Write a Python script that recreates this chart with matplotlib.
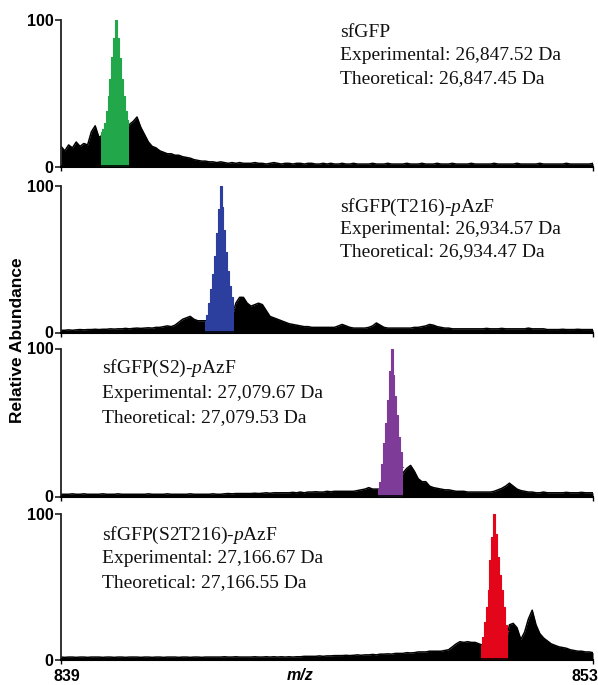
import matplotlib
matplotlib.use('Agg')
import matplotlib.pyplot as plt
import numpy as np

plt.rcParams['mathtext.fontset'] = 'custom'
plt.rcParams['mathtext.rm'] = 'Liberation Serif'
plt.rcParams['mathtext.it'] = 'Liberation Serif:italic'

# m/z axis of the deconvoluted traces, sampled every 0.1
mz = np.linspace(839, 853, 141)

# black traces (relative abundance)
trace_wt = [14, 11, 15, 13, 17, 14, 16, 15, 24, 28,
            20, 22, 22, 22, 22, 22, 22, 24, 29, 31,
            34, 27, 22, 17, 14, 13, 11, 10, 9, 9,
            8, 8, 7, 6.5, 6, 5, 4.5, 4, 4, 3.5,
            3.5, 3, 3.5, 3, 2.5, 3, 2.5, 3, 2.5, 2.5,
            2.5, 3, 2.5, 2.5, 2, 2.5, 3, 2.5, 2, 2.5,
            2.5, 2, 2.5, 2.5, 2, 2.5, 2.5, 2, 2, 2.5,
            2, 2.5, 2, 2, 2.5, 2, 2, 2.5, 2, 2,
            2, 2, 2.5, 2, 2, 2, 2.5, 2, 2, 2,
            2, 2.5, 2, 2, 2, 2.5, 2, 2, 2, 2.5,
            2, 2, 2, 2.5, 2, 2, 2, 2, 2.5, 2,
            2, 2, 2, 2, 2.5, 2, 2, 2, 2, 2,
            2.5, 2, 2, 2, 2, 2, 2.5, 2, 2, 2,
            2, 2, 2, 2.5, 2, 2, 2, 2, 2, 2,
            2.5]
trace_t216 = [1.5, 1.5, 1.8, 1.5, 1.8, 2, 1.8, 2, 2, 2.2,
              2, 2.2, 2.2, 2.5, 2.3, 2.5, 2.5, 2.8, 2.5, 2.8,
              3, 2.8, 3, 3.2, 3, 3.5, 3.5, 4, 4.5, 4,
              5, 7, 9, 10, 11, 9, 8, 8, 8, 8,
              8, 8, 8, 8, 8, 10, 20, 24, 24, 20,
              18, 19, 20, 19, 15, 11, 10, 9, 8, 7,
              6, 5.5, 5, 4.5, 4, 4, 3.5, 3.5, 3.5, 3.5,
              3.5, 3.5, 3.5, 4.5, 5.5, 4.5, 3.5, 3, 3, 3,
              3, 3.5, 4.5, 6.5, 5, 3.5, 3, 3, 3, 3,
              3, 3, 3, 3.5, 3.5, 4, 4.5, 5.5, 5, 4,
              3.5, 3, 3, 2.5, 2.5, 2.5, 2.5, 2.5, 2.5, 2.5,
              2.5, 2.5, 2.8, 2.5, 2.5, 2.5, 2.8, 2.5, 2.5, 2.5,
              2.5, 2.5, 2.5, 3, 2.5, 2.5, 2.5, 2.5, 2, 2,
              2, 2, 2.2, 2, 2, 2, 2.2, 2, 2, 2,
              2]
trace_s2 = [1.5, 1.5, 1.5, 1.8, 1.5, 1.5, 1.8, 1.5, 1.5, 1.5,
            1.5, 1.8, 1.5, 1.5, 1.5, 1.8, 1.5, 1.5, 1.5, 1.5,
            1.5, 1.5, 1.5, 1.8, 1.5, 1.5, 1.5, 1.5, 1.8, 1.5,
            1.5, 1.5, 1.5, 1.5, 1.8, 1.5, 1.5, 1.5, 1.5, 1.5,
            1.8, 1.5, 1.5, 1.8, 2, 1.8, 2, 2, 2, 2,
            2, 2.2, 2, 2.2, 2.5, 2.2, 2.5, 2.5, 2.5, 2.5,
            2.5, 2.8, 2.5, 3, 2.5, 3, 3, 3.2, 3, 3,
            3.5, 3.2, 3.5, 3.5, 3.5, 3.5, 3.5, 3.5, 4, 4.5,
            5, 6, 5, 5, 5, 5, 5, 5, 5, 5,
            16, 19, 21, 17, 12, 10, 10, 7, 6, 5.5,
            5, 4.5, 4.5, 4, 3.5, 3.5, 3.5, 3, 3, 3,
            3, 3, 3, 3, 3.5, 4.5, 5.5, 7, 9, 7,
            5, 4, 3.5, 3, 3, 2.5, 2.5, 3, 2.5, 2.5,
            2.5, 2.5, 2.5, 2.8, 2.5, 2.5, 2.5, 2.8, 2.5, 2.5,
            2.5]
trace_s2t216 = [2, 1.8, 2, 2, 1.8, 2, 2, 1.8, 2, 2,
                2, 1.8, 2, 2, 1.8, 2, 2, 1.8, 2, 2,
                2, 1.8, 2, 2, 1.8, 2, 2, 1.8, 2, 2,
                2, 1.8, 2, 2, 1.8, 2, 2, 1.8, 2, 2,
                2, 2, 2, 2.2, 2, 2, 2.2, 2, 2, 2,
                2, 2.2, 2, 2, 2.2, 2, 2.2, 2, 2.2, 2,
                2.2, 2, 2.2, 2.2, 2.5, 2.5, 2.5, 2.5, 2.8, 2.5,
                2.8, 2.8, 3, 3, 3, 3.2, 3, 3.2, 3.5, 3.2,
                3.5, 3.5, 3.8, 3.5, 4, 4, 4.2, 4, 4.5, 4.5,
                4.5, 5, 4.8, 5, 5.5, 5.5, 5.5, 6, 6, 6,
                6, 6.5, 7, 9, 11, 12.5, 12, 12.5, 12, 12,
                11, 10, 10, 10, 10, 10, 10, 10, 24, 25,
                22, 14, 19, 28, 34, 24, 18, 15, 13, 11,
                10, 9, 8.5, 8, 7, 6.5, 6, 6, 5.5, 5.5,
                5]

# highlighted main peaks, sampled every 0.05 from their start
peak_start = [840.05, 842.80, 847.35, 850.05]
peak_wt = [24, 26, 30, 38, 48, 60, 75, 88, 100, 88, 74, 60, 48, 38, 32, 30]
peak_t216 = [8, 12, 20, 30, 40, 52, 68, 84, 100, 86, 70, 55, 42, 32, 24, 17]
peak_s2 = [5, 10, 22, 36, 50, 65, 85, 100, 82, 68, 55, 40, 30, 20]
peak_s2t216 = [10, 16, 26, 36, 48, 68, 84, 100, 86, 70, 58, 48, 36, 24, 20]

names = ['sfGFP', 'sfGFP(T216)-$\\it{p}$AzF', 'sfGFP(S2)-$\\it{p}$AzF',
         'sfGFP(S2T216)-$\\it{p}$AzF']
experimental = ['26,847.52', '26,934.57', '27,079.67', '27,166.67']
theoretical = ['26,847.45', '26,934.47', '27,079.53', '27,166.55']
peak_colors = ['#22a84a', '#2c3f9e', '#7e3c98', '#e3061a']

traces = [trace_wt, trace_t216, trace_s2, trace_s2t216]
peaks = [peak_wt, peak_t216, peak_s2, peak_s2t216]

fig = plt.figure(figsize=(5.98, 6.85), dpi=100)

# panel boxes in pixels: (top of axis, bottom of axis)
W, H = 598, 685
x0, x1 = 61, 593
panel_px = [(20, 167), (186, 332.5), (348.5, 496.5), (513.5, 660)]
# text placement: x in axes fraction, baselines in axes fraction
text_x = [0.524, 0.524, 0.078, 0.078]
text_y = [(0.884, 0.728, 0.571), (0.823, 0.672, 0.522),
          (0.834, 0.666, 0.506), (0.819, 0.659, 0.498)]

sans = 'Liberation Sans'
serif = 'Liberation Serif'

for i in range(4):
    top, bot = panel_px[i]
    ax = fig.add_axes([x0 / W, 1 - bot / H, (x1 - x0) / W, (bot - top) / H])
    ax.fill_between(mz, 0, traces[i], color='black', lw=0, zorder=1)
    ax.plot(mz, traces[i], color='black', lw=1.1, zorder=1.5)
    pm = peak_start[i] + 0.05 * np.arange(len(peaks[i]))
    ax.fill_between(pm, 0, peaks[i], color=peak_colors[i], lw=0,
                    step='mid', clip_on=False, zorder=3)
    ax.step(pm, peaks[i], where='mid', color=peak_colors[i], lw=0.8,
            clip_on=False, zorder=3)
    # baseline drawn over the colored peak
    ax.axhline(0.6, color='black', lw=1.2, zorder=4)

    ax.set_xlim(839, 853)
    ax.set_ylim(0, 100)
    for s in ['top', 'right']:
        ax.spines[s].set_visible(False)
    ax.spines['left'].set_linewidth(1.3)
    ax.spines['left'].set_color('#222222')
    ax.spines['bottom'].set_linewidth(1.5)
    ax.set_yticks([0, 100])
    ax.set_yticklabels(['0', '100'], fontfamily=sans, fontweight='bold',
                       fontsize=11.5)
    ax.tick_params(axis='y', length=4, width=1.2, pad=1.5, color='#222222')
    ax.set_xticks([839, 853])
    ax.set_xticklabels([])
    ax.tick_params(axis='x', length=3, width=1)
    if i == 3:
        # end labels of the m/z axis
        ax.text(839.16, -0.11, '839', transform=ax.get_xaxis_transform(),
                ha='center', va='center', fontfamily=sans,
                fontweight='bold', fontsize=11.5)
        ax.text(852.78, -0.11, '853', transform=ax.get_xaxis_transform(),
                ha='center', va='center', fontfamily=sans,
                fontweight='bold', fontsize=11.5)

    lines = [names[i], 'Experimental: ' + experimental[i] + ' Da',
             'Theoretical: ' + theoretical[i] + ' Da']
    for line, ty in zip(lines, text_y[i]):
        ax.text(text_x[i], ty, line, transform=ax.transAxes, ha='left',
                va='baseline', fontfamily=serif, fontsize=14, color='#111111')

fig.text(300 / W, 1 - 676 / H, 'm/z', ha='center', va='center',
         fontfamily=sans, fontweight='bold', fontstyle='italic', fontsize=11.5)
fig.text(18 / W, 1 - 340 / H, 'Relative Abundance', rotation=90,
         ha='center', va='center', fontfamily=sans, fontweight='bold',
         fontsize=12.5)

fig.savefig('out.png', dpi=100)
